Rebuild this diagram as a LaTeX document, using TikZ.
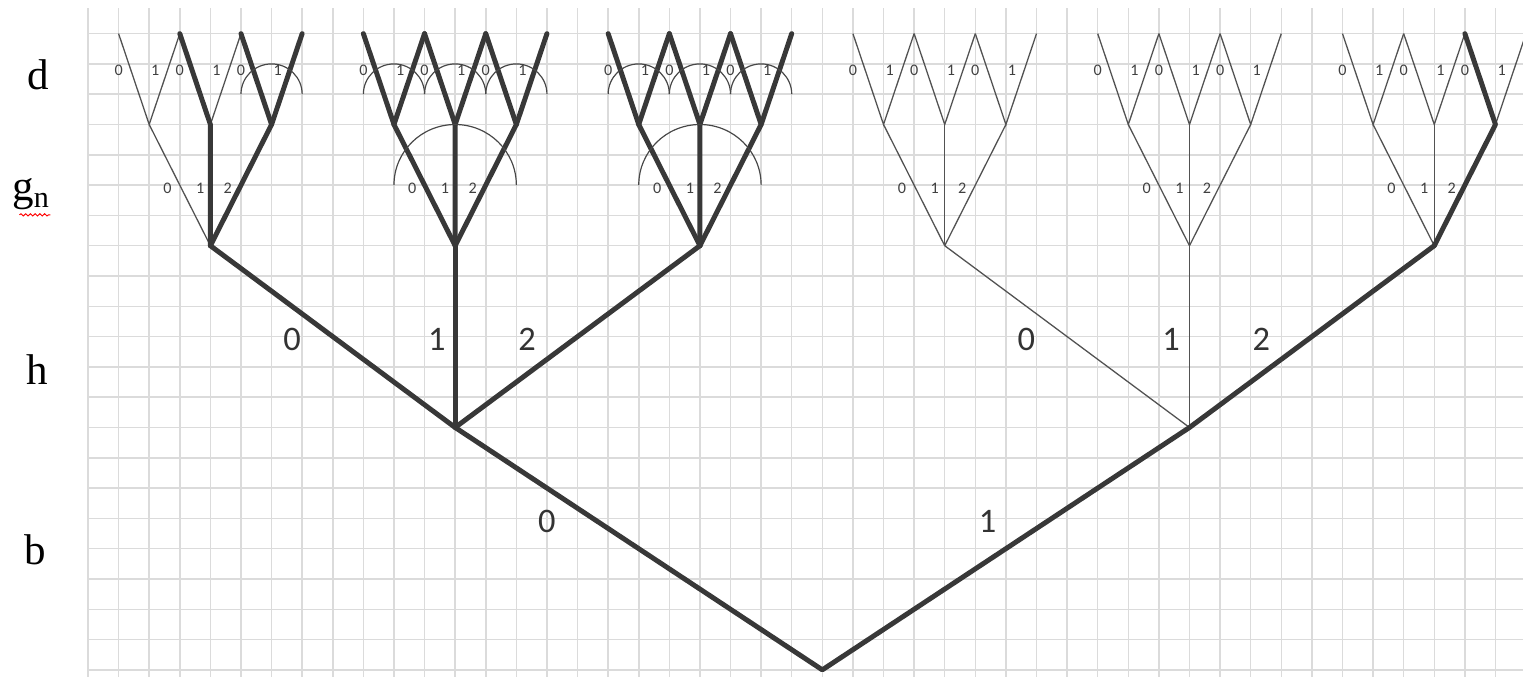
\documentclass[tikz,border=0pt]{standalone}
\usepackage{fontspec}
\setmainfont{Liberation Serif}
\newfontfamily\digitfont{Carlito}
\usetikzlibrary{calc,decorations.pathmorphing}

\begin{document}
\begin{tikzpicture}[
    x=0.5cm, y=0.4951cm,
    gridline/.style={draw=gray!28, line width=0.7pt},
    thinedge/.style={draw=black!68, line width=0.6pt},
    thickedge/.style={draw=black!78, line width=2.3pt, line cap=round, line join=round},
    choice/.style={draw=black!72, line width=0.55pt},
    lvl/.style={font=\fontsize{20}{20}\selectfont, inner sep=0pt},
    bigdigit/.style={font=\digitfont\fontsize{16}{16}\selectfont, text=black!80, inner sep=0pt},
    smalldigit/.style={font=\digitfont\fontsize{7.5}{7.5}\selectfont, text=black!75, inner sep=0pt},
]

% Frame and grid
\useasboundingbox (-2.876,-0.231) rectangle (46.9,22.11);
\clip (-2.876,-0.231) rectangle (46.9,22.11);
\foreach \k in {0,...,46} \draw[gridline] (\k,-0.231) -- (\k,21.85);
\foreach \r in {0,...,21} \draw[gridline] (0,\r) -- (46.9,\r);

% Tree points
\coordinate (root) at (24,0);
\coordinate (b0) at (12,8);
\coordinate (b1) at (36,8);
\foreach \j in {0,...,5} \coordinate (h\j) at ({4+8*\j},14);
\foreach \m in {0,...,17} {
  \pgfmathtruncatemacro{\gx}{2+2*\m+2*floor(\m/3)}
  \coordinate (g\m) at (\gx,18);
  \coordinate (g\m-l) at (\gx-1,21);
  \coordinate (g\m-r) at (\gx+1,21);
}

% Thin branches
\draw[thinedge] (b1) -- (h3);
\draw[thinedge] (b1) -- (h4);
\foreach \m in {0,9,10,...,16} {
  \pgfmathtruncatemacro{\p}{floor(\m/3)}
  \draw[thinedge] (g\m-l) -- (g\m) -- (g\m-r);
  \draw[thinedge] (h\p) -- (g\m);
}
\draw[thinedge] (g1) -- (g1-r);
\draw[thinedge] (g17) -- (g17-r);

% Thick branches
\draw[thickedge] (h0) -- (b0) -- (root) -- (b1) -- (h5);
\draw[thickedge] (b0) -- (h1);
\draw[thickedge] (b0) -- (h2);
\foreach \m in {1,...,8,17} {
  \pgfmathtruncatemacro{\p}{floor(\m/3)}
  \draw[thickedge] (g\m-l) -- (g\m) -- (h\p);
}
\foreach \m in {2,...,8} \draw[thickedge] (g\m) -- (g\m-r);

% Arcs
\foreach \m in {2,...,8} \draw[choice] (g\m) ++(1,1) arc[start angle=0, end angle=180, radius=1];
\foreach \j in {1,2} \draw[choice] (h\j) ++(2,2) arc[start angle=0, end angle=180, radius=2];

% Digit labels
\foreach \m in {0,...,17} {
  \node[smalldigit] (dz\m) at ($(g\m)+(-1,1.8)$) {0};
  \node[smalldigit] (do\m) at ($(g\m)+(0.2,1.8)$) {1};
}
\foreach \j in {0,...,5} {
  \node[smalldigit] (gz\j) at ($(h\j)+(-1.4,1.9)$) {0};
  \node[smalldigit] (go\j) at ($(h\j)+(-0.33,1.9)$) {1};
  \node[smalldigit] (gt\j) at ($(h\j)+(0.57,1.9)$) {2};
}
\foreach \i in {0,1} {
  \node[bigdigit] (hz\i) at ($(b\i)+(-5.33,2.9)$) {0};
  \node[bigdigit] (ho\i) at ($(b\i)+(-0.6,2.9)$) {1};
  \node[bigdigit] (ht\i) at ($(b\i)+(2.35,2.9)$) {2};
}
\node[bigdigit] (bz) at ($(root)+(-9,4.9)$) {0};
\node[bigdigit] (bo) at ($(root)+(5.4,4.9)$) {1};

% Level names
\node[lvl] (lvld) at (-1.63,19.64) {d};
\node[lvl] (lvlg) at (-1.86,15.7) {g\textsubscript{n}};
\node[lvl] (lvlh) at (-1.67,9.9) {h};
\node[lvl] (lvlb) at (-1.73,3.96) {b};
\draw[red, line width=0.45pt, decorate, decoration={snake, amplitude=0.5pt, segment length=2.2pt}]
  ($(lvlg.south west)+(0.25,-0.15)$) -- ($(lvlg.south east)+(0,-0.15)$);

\end{tikzpicture}
\end{document}
